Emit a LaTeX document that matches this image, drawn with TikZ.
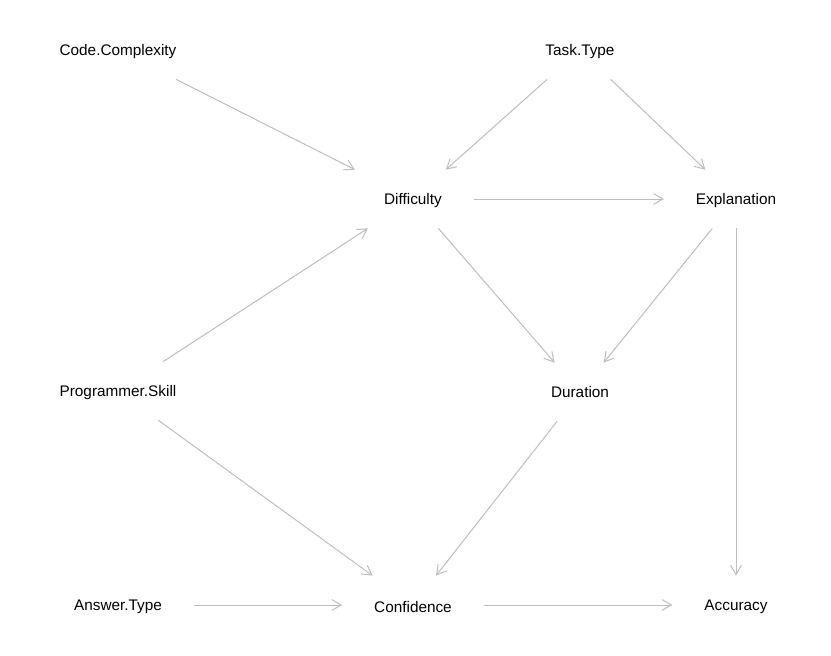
\documentclass[tikz,border=0pt]{standalone}
\usepackage{fontspec}
\setmainfont{Liberation Sans}
\usetikzlibrary{arrows.meta}
\definecolor{edgegray}{RGB}{190,190,190}
\tikzset{
  var/.style = {rectangle, minimum height=44pt, inner xsep=24pt,
                inner ysep=0pt, outer sep=0pt,
                text height=8.2pt, text depth=0pt,
                font=\fontsize{11.5}{14}\selectfont},
  edge/.style = {draw=edgegray, line width=0.75pt,
                 -{Straight Barb[length=7pt, width=8pt, line width=0.75pt]}}
}
\begin{document}
\begin{tikzpicture}[x=0.75pt, y=-0.75pt]
	\useasboundingbox (0,0) rectangle (831,656);
	\fill[white] (0,0) rectangle (831,656);
	
	% Variables
	\node[var] (cc) at (118,50)  {Code.Complexity};
	\node[var] (tt) at (580,50)  {Task.Type};
	\node[var] (di) at (413,199) {Difficulty};
	\node[var] (ex) at (736,199) {Explanation};
	\node[var] (ps) at (118,391) {Programmer.Skill};
	\node[var] (du) at (580,392) {Duration};
	\node[var] (at) at (118,605) {Answer.Type};
	\node[var, text height=11.2pt] (co) at (413,605) {Confidence};
	\node[var] (ac) at (736,605) {Accuracy};
	
	% Arcs
	\draw[edge] (cc) -- (di);
	\draw[edge] (tt) -- (di);
	\draw[edge] (tt) -- (ex);
	\draw[edge] (di) -- (ex);
	\draw[edge] (di) -- (du);
	\draw[edge] (ex) -- (du);
	\draw[edge] (ex) -- (ac);
	\draw[edge] (ps) -- (di);
	\draw[edge] (ps) -- (co);
	\draw[edge] (du) -- (co);
	\draw[edge] (at) -- (co);
	\draw[edge] (co) -- (ac);
	
\end{tikzpicture}
\end{document}
